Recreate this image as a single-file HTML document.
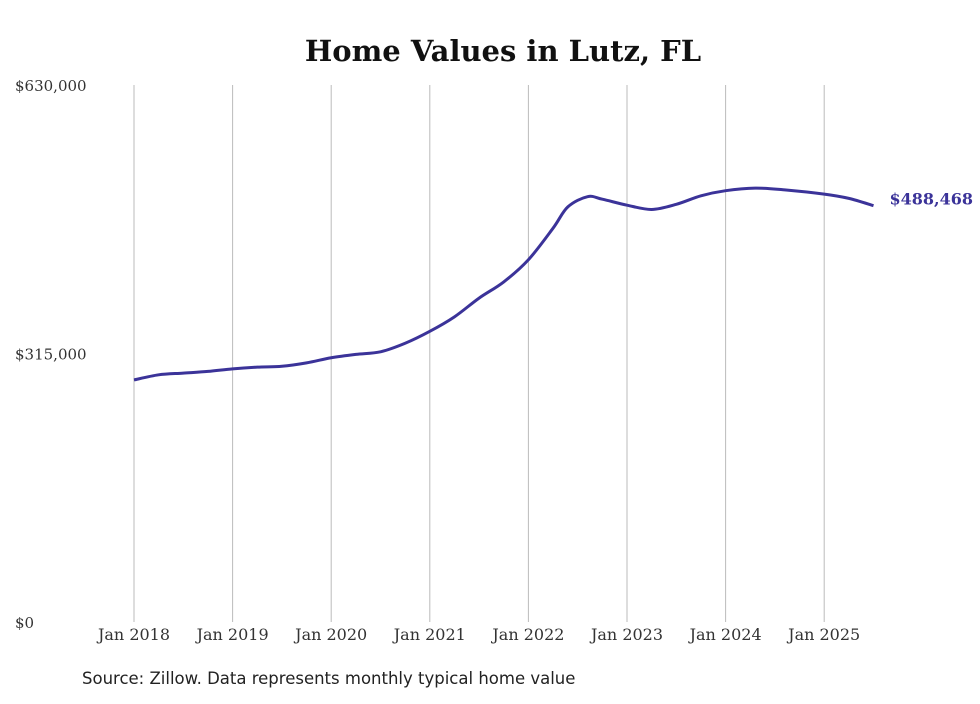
<!DOCTYPE html>
<html><head><meta charset="utf-8"><style>
body{margin:0;background:#fff;}
svg text{font-family:"DejaVu Serif","Liberation Serif",serif;}
</style></head><body>
<svg width="980" height="699" viewBox="0 0 980 699" xmlns="http://www.w3.org/2000/svg">
<text x="503" y="61" text-anchor="middle" font-size="29" font-weight="bold" fill="#111">Home Values in Lutz, FL</text>
<g id="grid"></g><g id="yax"></g><g id="xax"></g><g id="series"></g>
<text x="82" y="684" font-size="16.5" fill="#222" style="font-family:'DejaVu Sans',sans-serif">Source: Zillow. Data represents monthly typical home value</text>
</svg>
<script>
const years=[2018,2019,2020,2021,2022,2023,2024,2025];
const yTicks=[0,315000,630000];
const yTickLabels=["$0","$315,000","$630,000"];
const dates=[2018,2018.25,2018.5,2018.75,2019,2019.25,2019.5,2019.75,2020,2020.25,2020.5,2020.75,2021,2021.25,2021.5,2021.75,2022,2022.25,2022.4,2022.6,2022.75,2023,2023.25,2023.5,2023.75,2024,2024.3,2024.6,2025,2025.25,2025.5];
const values=[284000,290000,292000,294000,297000,299000,300000,304000,310000,314000,317000,327000,341000,358000,380000,399000,425000,462000,487000,499000,496000,489000,484000,490000,500000,506000,509000,507000,502000,497000,488468];
const lastLabel="$488,468";
const NS="http://www.w3.org/2000/svg";
const X=d=>134+(d-2018)*98.6;
const Y=v=>622-v/630000*537;
function mk(t,a,p,txt){const e=document.createElementNS(NS,t);for(const k in a)e.setAttribute(k,a[k]);if(txt!==undefined)e.textContent=txt;document.getElementById(p).appendChild(e);return e;}
years.forEach(y=>{
 const l=mk('line',{x1:X(y),x2:X(y),y1:85,y2:622,stroke:'#bbb','stroke-width':1},'grid');
 
 
 const t=mk('text',{x:X(y),y:640,'text-anchor':'middle','font-size':16,fill:'#333'},'xax','Jan '+y);
 
 
});
yTicks.forEach((v,i)=>{
 const t=mk('text',{x:15,y:Y(v)+6,'font-size':15,fill:'#333'},'yax',yTickLabels[i]);
 
 
});
const pts=dates.map((d,i)=>[X(d),Y(values[i])]);
let dstr='M'+pts[0][0]+','+pts[0][1];
for(let i=0;i<pts.length-1;i++){
 const p0=pts[i-1]||pts[i],p1=pts[i],p2=pts[i+1],p3=pts[i+2]||p2;
 const c1=[p1[0]+(p2[0]-p0[0])/6,p1[1]+(p2[1]-p0[1])/6];
 const c2=[p2[0]-(p3[0]-p1[0])/6,p2[1]-(p3[1]-p1[1])/6];
 dstr+=` C${c1[0]},${c1[1]} ${c2[0]},${c2[1]} ${p2[0]},${p2[1]}`;
}
const path=mk('path',{d:dstr,fill:'none',stroke:'#3b3399','stroke-width':3,'stroke-linejoin':'round'},'series');


const lp=pts[pts.length-1];
const lab=mk('text',{x:lp[0]+16,y:lp[1]-1,'font-size':16,'font-weight':'bold',fill:'#3b3399'},'series',lastLabel);


</script>
</body></html>
